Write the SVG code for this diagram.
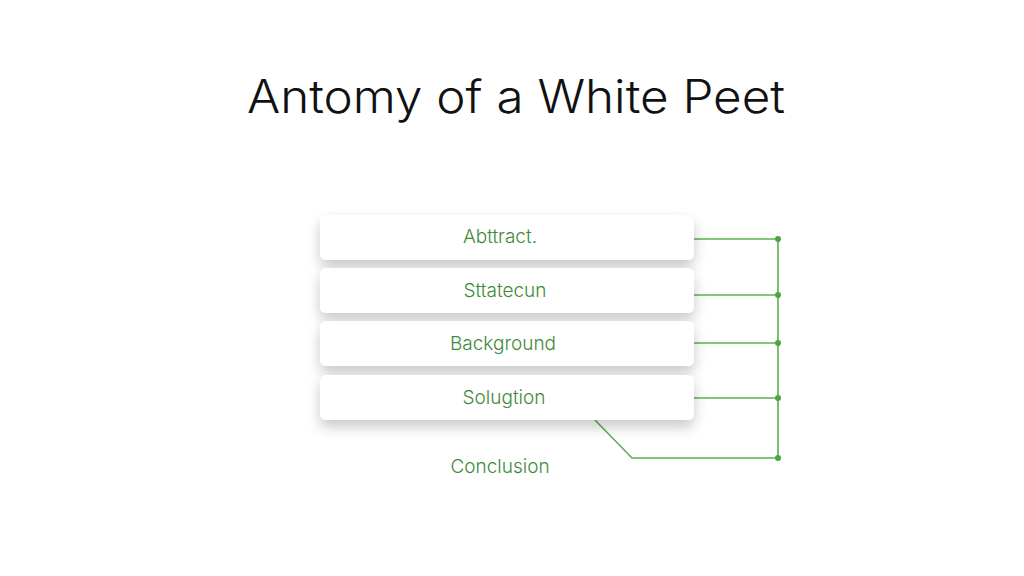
<svg xmlns="http://www.w3.org/2000/svg" width="1024" height="576" viewBox="0 0 1024 576">
<defs>
<filter id="sh" x="-10%" y="-40%" width="120%" height="210%">
<feGaussianBlur in="SourceAlpha" stdDeviation="7"/>
<feOffset dy="7" result="b"/>
<feComponentTransfer><feFuncA type="linear" slope="0.22"/></feComponentTransfer>
<feMerge><feMergeNode/><feMergeNode in="SourceGraphic"/></feMerge>
</filter>
</defs>
<style>
.box{fill:#ffffff;filter:url(#sh)}
.lbl{font-family:Inter,"Liberation Sans",sans-serif;font-size:19px;font-weight:300;fill:#3f8a3a;text-anchor:middle}
.ln{stroke:#5cb152;stroke-width:1.6;fill:none}
.dot{fill:#4fa346}
</style>
<rect width="1024" height="576" fill="#ffffff"/>
<text x="516" y="113" font-family="Inter,'Liberation Sans',sans-serif" font-size="46" font-weight="300" fill="#111111" text-anchor="middle" textLength="538" lengthAdjust="spacingAndGlyphs">Antomy of a White Peet</text>
<g id="connectors">
<path class="ln" d="M694 239H778M694 295H778M694 343H778M694 398H778M778 239V458M595 420L632 458H778"/>
<circle class="dot" cx="778" cy="239" r="3"/>
<circle class="dot" cx="778" cy="295" r="3"/>
<circle class="dot" cx="778" cy="343" r="3"/>
<circle class="dot" cx="778" cy="398" r="3"/>
<circle class="dot" cx="778" cy="458" r="3"/>
</g>
<g id="abstract"><rect class="box" x="320" y="215" width="374" height="45" rx="6"/><text class="lbl" x="500" y="243">Abttract.</text></g>
<g id="statement"><rect class="box" x="320" y="268" width="374" height="45" rx="6"/><text class="lbl" x="505" y="297">Sttatecun</text></g>
<g id="background"><rect class="box" x="320" y="321" width="374" height="45" rx="6"/><text class="lbl" x="503" y="350">Background</text></g>
<g id="solution"><rect class="box" x="320" y="375" width="374" height="45" rx="6"/><text class="lbl" x="504" y="404">Solugtion</text></g>
<g id="conclusion"><text class="lbl" x="500" y="473">Conclusion</text></g>
</svg>
